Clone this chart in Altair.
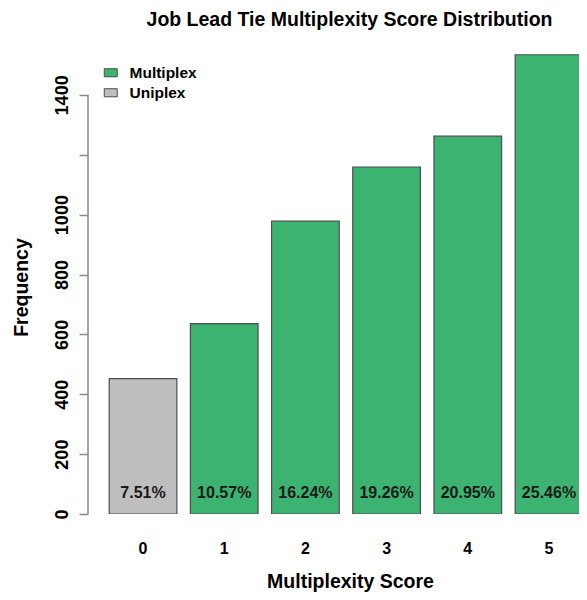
import altair as alt
import pandas as pd

scores = ["0", "1", "2", "3", "4", "5"]
freqs = [452, 636, 978, 1159, 1262, 1534]
pcts = ["7.51%", "10.57%", "16.24%", "19.26%", "20.95%", "25.46%"]
types = ["Uniplex", "Multiplex", "Multiplex", "Multiplex", "Multiplex", "Multiplex"]
legend_order = ["Multiplex", "Uniplex"]
legend_colors = ["#3CB371", "#BEBEBE"]
y_ticks = [0, 200, 400, 600, 800, 1000, 1200, 1400]

df = pd.DataFrame({"score": scores, "freq": freqs, "pct": pcts, "type": types})

FONT = "Liberation Sans"
AXIS_GRAY = "#8a8a8a"

xscale = alt.Scale(domain=scores, range=[0, 516], paddingInner=1 / 6, paddingOuter=0.261)
yscale = alt.Scale(domain=[0, 1600], nice=False, zero=True)

x_axis = alt.Axis(
    labelAngle=0, ticks=False, tickSize=0, domain=False, grid=False,
    labelPadding=39, labelBaseline="alphabetic", labelFontSize=16, labelFontWeight="bold",
    labelColor="#000000", labelFont=FONT,
    title="Multiplexity Score", titleX=262, titleY=73, titleBaseline="alphabetic",
    titleAlign="center", titleAngle=0, titleFontSize=19.5, titleFontWeight="bold",
    titleFont=FONT, titleColor="#000000",
)
y_axis = alt.Axis(
    values=y_ticks, format="d", labelExpr="datum.value == 1200 ? '' : datum.label",
    labelAngle=270, labelAlign="center", labelBaseline="alphabetic",
    labelFlush=False, labelOverlap=False, tickSize=9, labelPadding=12,
    tickColor=AXIS_GRAY, tickWidth=1.5, domain=False, grid=False,
    labelFontSize=18, labelFontWeight="bold", labelFont=FONT, labelColor="#000000",
    title="Frequency", titleAngle=270, titleX=-61, titleY=252, titleBaseline="alphabetic",
    titleAlign="center", titleFontSize=19.5, titleFontWeight="bold", titleFont=FONT,
    titleColor="#000000",
)

bars = alt.Chart(df).mark_bar(stroke="#4d4d4d", strokeWidth=1.2, clip=True).encode(
    x=alt.X("score:N", scale=xscale, axis=x_axis, sort=scores),
    y=alt.Y("freq:Q", scale=yscale, axis=y_axis),
    color=alt.Color(
        "type:N",
        scale=alt.Scale(domain=legend_order, range=legend_colors),
        legend=alt.Legend(
            title=None, orient="none", legendX=15, legendY=30, padding=0,
            symbolType="M-1,-0.62H1V0.62H-1Z", symbolSize=169,
            symbolStrokeColor="#4d4d4d", symbolStrokeWidth=1,
            labelFontSize=15.5, labelFontWeight="bold", labelFont=FONT,
            labelColor="#000000", labelOffset=11, rowPadding=3, labelLimit=300,
        ),
    ),
)

labels = alt.Chart(df).mark_text(
    font=FONT, fontSize=16, fontWeight="bold", color="#1a1a1a",
    baseline="alphabetic", align="center",
).encode(
    x=alt.X("score:N", scale=xscale, sort=scores),
    y=alt.datum(53),
    text="pct:N",
)

axis_line = alt.Chart(pd.DataFrame({"lo": [0], "hi": [1400]})).mark_rule(
    color=AXIS_GRAY, strokeWidth=1.5
).encode(
    x=alt.value(0),
    y=alt.Y("lo:Q", scale=yscale),
    y2="hi:Q",
)

chart = alt.layer(bars, labels, axis_line).properties(
    width=491, height=479,
    title=alt.TitleParams(
        "Job Lead Tie Multiplexity Score Distribution",
        font=FONT, fontSize=19.5, fontWeight="bold", color="#000000",
        anchor="middle", frame="group", dx=16, offset=-10, baseline="alphabetic",
    ),
    autosize=alt.AutoSizeParams(type="none"),
    padding={"left": 80, "top": 27, "right": 0, "bottom": 78},
).configure_view(strokeWidth=0)

chart.save("out.html", embed_options={"renderer": "svg", "actions": False})
